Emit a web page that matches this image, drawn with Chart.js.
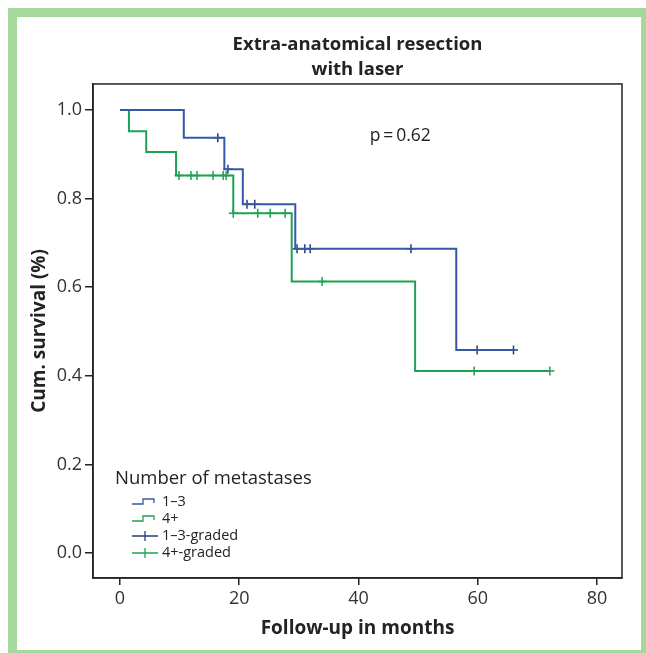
<!DOCTYPE html>
<html>
<head>
  <title>Extra-anatomical resection with laser</title>
  <script src="https://cdn.jsdelivr.net/npm/chart.js"></script>
  <style>
    body { margin: 0; background: #fff; }
    #frame {
      position: absolute; left: 8px; top: 8px;
      width: 624px; height: 633px;
      border: 9px solid #a6d89e; background: #fff;
    }
    #wrap { position: absolute; left: 0; top: 0; width: 646px; height: 653px; }
  </style>
</head>
<body>
  <div id="frame"></div>
  <div id="wrap"><canvas id="km" width="646" height="653"></canvas></div>

  <script>
    // axis ticks
    const xTicks = [0, 20, 40, 60, 80];
    const yTicks = [0.0, 0.2, 0.4, 0.6, 0.8, 1.0];

    // 1-3 metastases: event times and survival after each step
    const monthsLow = [0, 10.7, 17.5, 20.6, 29.4, 56.4, 66.0];
    const survivalLow = [1.0, 0.937, 0.866, 0.787, 0.687, 0.458, 0.458];
    const censorMonthsLow = [16.4, 18.1, 21.3, 22.6, 29.7, 31.0, 31.9, 48.8, 59.9, 66.0];
    const censorSurvLow = [0.937, 0.866, 0.787, 0.787, 0.687, 0.687, 0.687, 0.687, 0.458, 0.458];

    // 4+ metastases
    const monthsHigh = [0, 1.5, 4.4, 9.4, 19.0, 28.8, 49.5, 72.0];
    const survivalHigh = [1.0, 0.952, 0.905, 0.852, 0.767, 0.613, 0.411, 0.411];
    const censorMonthsHigh = [9.9, 11.9, 12.9, 15.6, 17.3, 17.8, 19.0, 23.1, 25.2, 27.7, 33.9, 59.4, 72.1];
    const censorSurvHigh = [0.852, 0.852, 0.852, 0.852, 0.852, 0.852, 0.767, 0.767, 0.767, 0.767, 0.613, 0.411, 0.411];

    const blue = '#3558a6';
    const blueDark = '#283c7c';
    const green = '#1fa153';
    const ink = '#232323';
    const FONT = '"Open Sans", "Noto Sans", sans-serif';

    const pts = (xs, ys) => xs.map((x, i) => ({ x: x, y: ys[i] }));

    // frame round the plot area, p value and legend inside it
    const extras = {
      id: 'extras',
      afterDraw(chart) {
        const { ctx, chartArea: a, scales } = chart;
        ctx.save();
        ctx.strokeStyle = ink;
        ctx.lineWidth = 1.5;
        ctx.strokeRect(a.left, a.top, a.right - a.left, a.bottom - a.top);

        ctx.fillStyle = ink;
        ctx.textBaseline = 'middle';
        ctx.textAlign = 'center';
        ctx.font = '17.5px ' + FONT;
        ctx.fillText('p\u2009=\u20090.62', scales.x.getPixelForValue(47), scales.y.getPixelForValue(0.942));

        ctx.textAlign = 'left';
        const lx = a.left + 22, ly = a.bottom - 99;
        ctx.font = '18.5px ' + FONT;
        ctx.fillText('Number of metastases', lx, ly);

        ctx.font = '14.5px ' + FONT;
        const rows = [
          ['1\u20133', blue, false],
          ['4+', green, false],
          ['1\u20133-graded', blueDark, true],
          ['4+-graded', green, true]
        ];
        rows.forEach((r, i) => {
          const y = ly + 23 + i * 17;
          const x0 = lx + 17;
          ctx.strokeStyle = r[1];
          ctx.lineWidth = 1.3;
          ctx.beginPath();
          if (r[2]) {
            ctx.moveTo(x0, y); ctx.lineTo(x0 + 26, y);
            ctx.moveTo(x0 + 13, y - 5); ctx.lineTo(x0 + 13, y + 5);
          } else {
            ctx.moveTo(x0, y + 2); ctx.lineTo(x0 + 11, y + 2);
            ctx.lineTo(x0 + 11, y - 3); ctx.lineTo(x0 + 22, y - 3);
            ctx.lineTo(x0 + 22, y + 1);
          }
          ctx.stroke();
          ctx.fillStyle = ink;
          ctx.fillText(r[0], x0 + 30, y);
        });
        ctx.restore();
      }
    };

    new Chart(document.getElementById('km'), {
      type: 'line',
      data: {
        datasets: [
          { label: '1\u20133', data: pts(monthsLow, survivalLow), stepped: 'before',
            borderColor: blue, borderWidth: 2, pointRadius: 0, fill: false },
          { label: '4+', data: pts(monthsHigh, survivalHigh), stepped: 'before',
            borderColor: green, borderWidth: 2, pointRadius: 0, fill: false },
          { label: '1\u20133-graded', data: pts(censorMonthsLow, censorSurvLow), showLine: false,
            pointStyle: 'cross', pointRadius: 4.5, borderWidth: 1.5, borderColor: blueDark },
          { label: '4+-graded', data: pts(censorMonthsHigh, censorSurvHigh), showLine: false,
            pointStyle: 'cross', pointRadius: 4.5, borderWidth: 1.5, borderColor: green }
        ]
      },
      options: {
        responsive: false,
        animation: false,
        layout: { padding: { left: 0, right: 24, top: 0, bottom: 0 } },
        plugins: {
          legend: { display: false },
          tooltip: { enabled: false },
          title: {
            display: true,
            fullSize: false,
            text: ['Extra-anatomical resection', 'with laser'],
            color: ink,
            font: { family: FONT, size: 18.5, weight: 'bold', lineHeight: 1.35 },
            padding: { top: 32, bottom: 2 }
          }
        },
        scales: {
          x: {
            type: 'linear', min: -4.53, max: 84.2,
            afterBuildTicks: s => { s.ticks = xTicks.map(v => ({ value: v })); },
            afterFit: s => { s.height = 75; },
            grid: { drawOnChartArea: false, tickLength: 7, color: ink, lineWidth: 1.5 },
            border: { color: ink, width: 1.5 },
            ticks: { color: '#333', font: { family: FONT, size: 18 }, padding: 3, maxRotation: 0 },
            title: { display: true, text: 'Follow-up in months', color: ink,
                     font: { family: FONT, size: 19, weight: 'bold', lineHeight: 1.2 },
                     padding: { top: 0, bottom: 13 } }
          },
          y: {
            min: -0.0564, max: 1.0587,
            afterBuildTicks: s => { s.ticks = yTicks.map(v => ({ value: v })); },
            afterFit: s => { s.width = 93; },
            grid: { drawOnChartArea: false, tickLength: 8, color: ink, lineWidth: 1.5 },
            border: { color: ink, width: 1.5 },
            ticks: { color: '#333', font: { family: FONT, size: 18 }, padding: 3,
                     callback: v => v.toFixed(1) },
            title: { display: true, text: 'Cum. survival (%)', color: ink,
                     font: { family: FONT, size: 19, weight: 'bold', lineHeight: 1.2 },
                     padding: { top: 28, bottom: 0 } }
          }
        }
      },
      plugins: [extras]
    });
  </script>
</body>
</html>
